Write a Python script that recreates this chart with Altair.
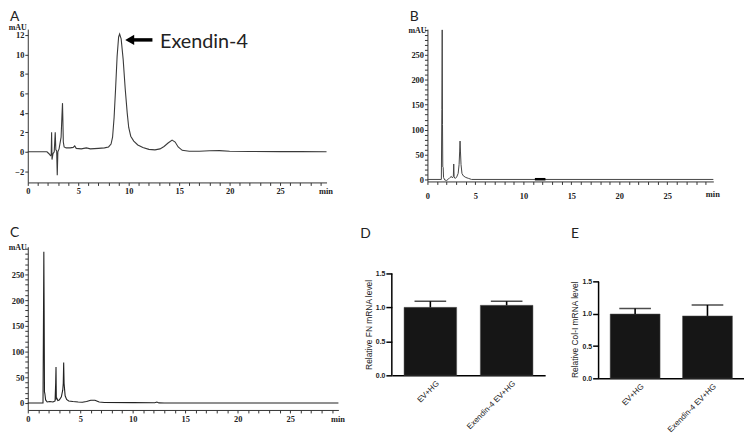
import altair as alt
import pandas as pd

# ---------------- data ----------------
# Panel A chromatogram (time in min, absorbance in mAU)
a_time = [0, 1.9, 2.1, 2.25, 2.32, 2.36, 2.4, 2.5, 2.62, 2.72, 2.78, 2.86, 2.92, 2.98,
          3.1, 3.3, 3.38, 3.44, 3.47, 3.52, 3.6, 3.8, 4.2, 4.5, 4.65, 4.8, 5.3, 5.8,
          6.2, 7.0, 7.6, 8.0, 8.25, 8.4, 8.55, 8.7, 8.85, 9.0, 9.1, 9.25, 9.45, 9.65,
          9.85, 10.0, 10.2, 10.5, 10.9, 11.4, 12.0, 12.6, 13.1, 13.5, 13.9, 14.3, 14.6,
          14.9, 15.3, 16, 17, 18, 19, 20, 22, 25, 27, 29.6]
a_mau = [0, 0, -0.2, -0.4, -0.3, 2.0, -0.8, -0.2, 0.0, 2.0, 0.2, 0.1, -2.4, 0.0,
         0.3, 1.5, 3.6, 5.0, 3.6, 1.0, 0.5, 0.4, 0.4, 0.45, 0.6, 0.35, 0.3, 0.4,
         0.3, 0.35, 0.4, 0.5, 0.8, 1.5, 3.5, 6.5, 9.8, 11.8, 12.1, 11.6, 9.5, 6.5,
         4.0, 2.5, 1.6, 1.1, 0.7, 0.45, 0.25, 0.2, 0.3, 0.55, 0.9, 1.2, 1.0,
         0.5, 0.15, 0.05, 0.05, 0.1, 0.12, 0.05, 0.03, 0.02, 0.02, 0.0]

# Panel B chromatogram
b_time = [0, 1.45, 1.5, 1.54, 1.57, 1.6, 1.64, 1.68, 1.8, 2.0, 2.2, 2.35, 2.5, 2.6,
          2.7, 2.74, 2.78, 2.9, 3.05, 3.2, 3.3, 3.36, 3.4, 3.44, 3.5, 3.6, 3.75, 4.0,
          4.3, 4.6, 29.8]
b_mau = [0, 0, 140, 300, 110, 25, 24, 4, -1, -2, 1, 4, 6, 3,
         6, 31, 5, 2, 5, 12, 30, 57, 77, 57, 30, 12, 7, 4,
         2, 0, 0]
b_mark_time = [11.2, 12.3]
b_mark_mau = [0.5, 0.5]

# Panel C chromatogram
c_time = [0, 1.45, 1.5, 1.53, 1.56, 1.59, 1.63, 1.7, 1.85, 2.1, 2.4, 2.6, 2.66, 2.69,
          2.72, 2.78, 2.86, 3.0, 3.2, 3.33, 3.38, 3.42, 3.46, 3.5, 3.56, 3.7, 3.9, 4.3,
          4.8, 5.2, 5.6, 6.0, 6.4, 6.8, 7.3, 10, 12.1, 12.3, 12.5, 13, 29.6]
c_mau = [0, 0, 180, 294, 180, 22, 18, 6, 2, 3, 2, 4, 40, 70,
         8, 9, 5, 6, 12, 25, 38, 79, 38, 28, 14, 7, 4, 3,
         2, 1.5, 3, 5.5, 5.5, 2, 1, 0.8, 0.6, 1.8, 0.2, 0, 0]

# Panels D and E (relative mRNA level, mean and upper error)
groups = ["EV+HG", "Exendin-4 EV+HG"]
fn_mean = [1.00, 1.03]
fn_upper = [1.09, 1.09]
col_mean = [1.00, 0.97]
col_upper = [1.085, 1.14]
bar_axis_range = [0.0, 1.5]

# Annotation in panel A
label_text = ["Exendin-4"]
label_time = [13.1]
label_mau = [11.3]
arrow_time = [10.4]
arrow_time2 = [12.35]
arrow_head_time = [10.1]
arrow_mau = [11.5]

panel_letters = ["A", "B", "C", "D", "E"]
unit_label = ["mAU"]

# ---------------- style ----------------
SERIF = "Liberation Serif"
SANS = "Liberation Sans"
AX = "#333333"
TXT = "#222222"


def letter(ch, dx, dy):
    return alt.Chart(pd.DataFrame({"lab": [ch]})).mark_text(
        font="Lato", fontSize=14, color=TXT, align="left", baseline="top"
    ).encode(text="lab:N", x=alt.value(dx), y=alt.value(dy))


def unit_text(dy):
    return alt.Chart(pd.DataFrame({"lab": unit_label})).mark_text(
        font=SERIF, fontWeight="bold", fontSize=8, color=TXT, align="right", baseline="middle"
    ).encode(text="lab:N", x=alt.value(-1), y=alt.value(dy))


def chrom(time, mau, ch, w, h, xdom, ydom, yvals, ymod, ylabmax, xlabpad, xtitle_y, mau_y,
          letter_y, color="#3a3a3a", sw=1.1, extra=None):
    df = pd.DataFrame({"t": time, "v": mau})
    xaxis = alt.Axis(
        values=list(range(0, int(xdom[1]) + 1)),
        labelExpr="datum.value % 5 === 0 ? datum.label : ''",
        labelOverlap=False, labelFlush=False, grid=False,
        tickSize=3, tickColor=AX, tickWidth=1, domainColor=AX, domainWidth=1,
        labelFont=SERIF, labelFontWeight="bold", labelFontSize=8.5, labelColor=TXT,
        labelPadding=xlabpad,
        title="min", titleAngle=0, titleX=w - 1, titleY=xtitle_y,
        titleAlign="center", titleBaseline="middle",
        titleFont=SERIF, titleFontWeight="bold", titleFontSize=8.5, titleColor=TXT)
    yaxis = alt.Axis(
        values=yvals,
        labelExpr="datum.value % " + str(ymod) + " === 0 && datum.value <= "
                  + str(ylabmax) + " ? datum.label : ''",
        labelOverlap=False, labelFlush=False, grid=False,
        tickSize=3, tickColor=AX, tickWidth=1, domainColor=AX, domainWidth=1,
        labelFont=SERIF, labelFontWeight="bold", labelFontSize=8.5, labelColor=TXT,
        labelPadding=1, title="")
    xenc = alt.X("t:Q", scale=alt.Scale(domain=xdom, nice=False, zero=False), axis=xaxis)
    yenc = alt.Y("v:Q", scale=alt.Scale(domain=ydom, nice=False, zero=False), axis=yaxis)
    line = alt.Chart(df).mark_line(color=color, strokeWidth=sw, clip=False).encode(x=xenc, y=yenc)
    layers = [line]
    if extra is not None:
        layers += extra(xenc, yenc)
    layers.append(unit_text(mau_y))
    layers.append(letter(ch, -18, letter_y))
    return alt.layer(*layers).properties(width=w, height=h)


# ---- Panel A ----
def a_extra(xenc, yenc):
    ann_df = pd.DataFrame({"t": label_time, "v": label_mau, "txt": label_text})
    arrow_df = pd.DataFrame({"t": arrow_time, "t2": arrow_time2, "v": arrow_mau})
    head_df = pd.DataFrame({"t": arrow_head_time, "v": arrow_mau})
    return [
        alt.Chart(ann_df).mark_text(font="Lato", fontSize=20, color=TXT, align="left",
                                    baseline="middle").encode(x=xenc, y=yenc, text="txt:N"),
        alt.Chart(arrow_df).mark_rule(color="black", strokeWidth=3.5).encode(
            x=xenc, x2="t2:Q", y=yenc),
        alt.Chart(head_df).mark_point(shape="triangle-left", filled=True, size=110,
                                      color="black", opacity=1).encode(x=xenc, y=yenc),
    ]


panel_a = chrom(a_time, a_mau, panel_letters[0], 302, 155, [0, 29.6], [-3.15, 12.61],
                list(range(-2, 13, 2)), 2, 12, 1, 8, -1.5, -19, extra=a_extra)


# ---- Panel B ----
def b_extra(xenc, yenc):
    bmark_df = pd.DataFrame({"t": b_mark_time, "v": b_mark_mau})
    return [alt.Chart(bmark_df).mark_line(color="black", strokeWidth=2.5).encode(x=xenc, y=yenc)]


panel_b = chrom(b_time, b_mau, panel_letters[1], 289, 154, [0, 29.8], [-4, 301.6],
                list(range(0, 301, 10)), 50, 250, 7, 12, 1.5, -19,
                color="#444444", sw=1, extra=b_extra)

# ---- Panel C ----
panel_c = chrom(c_time, c_mau, panel_letters[2], 314, 165, [0, 29.6], [-13.5, 304],
                list(range(0, 301, 10)), 50, 250, 2, 9, 1.5, -21,
                color="#222222", sw=1.1)


# ---- Panels D, E ----
def bar_panel(mean, upper, ch, title, w, h, ytop, title_y, letter_dx):
    df = pd.DataFrame({"group": groups, "value": mean, "upper": upper})
    xax = alt.Axis(labelAngle=-45, title=None, ticks=False, domainColor="black",
                   domainWidth=1.5, labelFont=SANS, labelFontSize=8,
                   labelColor=TXT, labelPadding=4, labelOffset=5)
    yax = alt.Axis(values=[0, 0.5, 1.0, 1.5], format=".1f", domain=False, grid=False,
                   tickSize=6, tickWidth=1.5, tickColor="black",
                   labelFont=SANS, labelFontWeight="bold", labelFontSize=7,
                   labelColor=TXT, labelPadding=1,
                   title=title, titleFont=SANS, titleFontSize=8.5,
                   titleFontWeight="normal", titleColor=TXT, titleY=title_y,
                   titleX=-24, titleBaseline="middle", titleAlign="center")
    ysc = alt.Scale(domain=[0, ytop], nice=False, zero=True)
    xs = alt.X("group:N", sort=groups,
               scale=alt.Scale(paddingInner=0.31, paddingOuter=0.16), axis=xax)
    ys = alt.Y("value:Q", scale=ysc, axis=yax)
    bars = alt.Chart(df).mark_bar(color="#161616", stroke="#555555", strokeWidth=0.5).encode(x=xs, y=ys)
    err = alt.Chart(df).mark_rule(color="black", strokeWidth=1.6).encode(
        x=xs, y=ys, y2="upper:Q")
    cap = alt.Chart(df).mark_tick(color="black", thickness=1.6, size=32).encode(
        x=xs, y=alt.Y("upper:Q", scale=ysc, axis=yax))
    yline = alt.Chart(pd.DataFrame({"value": [bar_axis_range[0]], "upper": [bar_axis_range[1]]})
                      ).mark_rule(color="black", strokeWidth=1.5).encode(
        x=alt.value(0), y=ys, y2="upper:Q")
    return alt.layer(bars, err, cap, yline, letter(ch, letter_dx, -20)).properties(width=w, height=h)


panel_d = bar_panel(fn_mean, fn_upper, panel_letters[3], "Relative FN mRNA level",
                    155, 130, 1.892, 78.5, -32)
panel_e = bar_panel(col_mean, col_upper, panel_letters[4], "Relative Col-I mRNA level",
                    147, 133, 2.046, 83.5, -28)

row1 = alt.hconcat(panel_a, panel_b, spacing=102, bounds="flush")
row2 = alt.hconcat(panel_c, panel_d, panel_e, spacing=54, bounds="flush")

chart = alt.vconcat(row1, row2, spacing=26).properties(
    padding=0, background="white"
).configure_view(strokeWidth=0)

chart.save("out.html", embed_options={"renderer": "svg", "actions": False})
